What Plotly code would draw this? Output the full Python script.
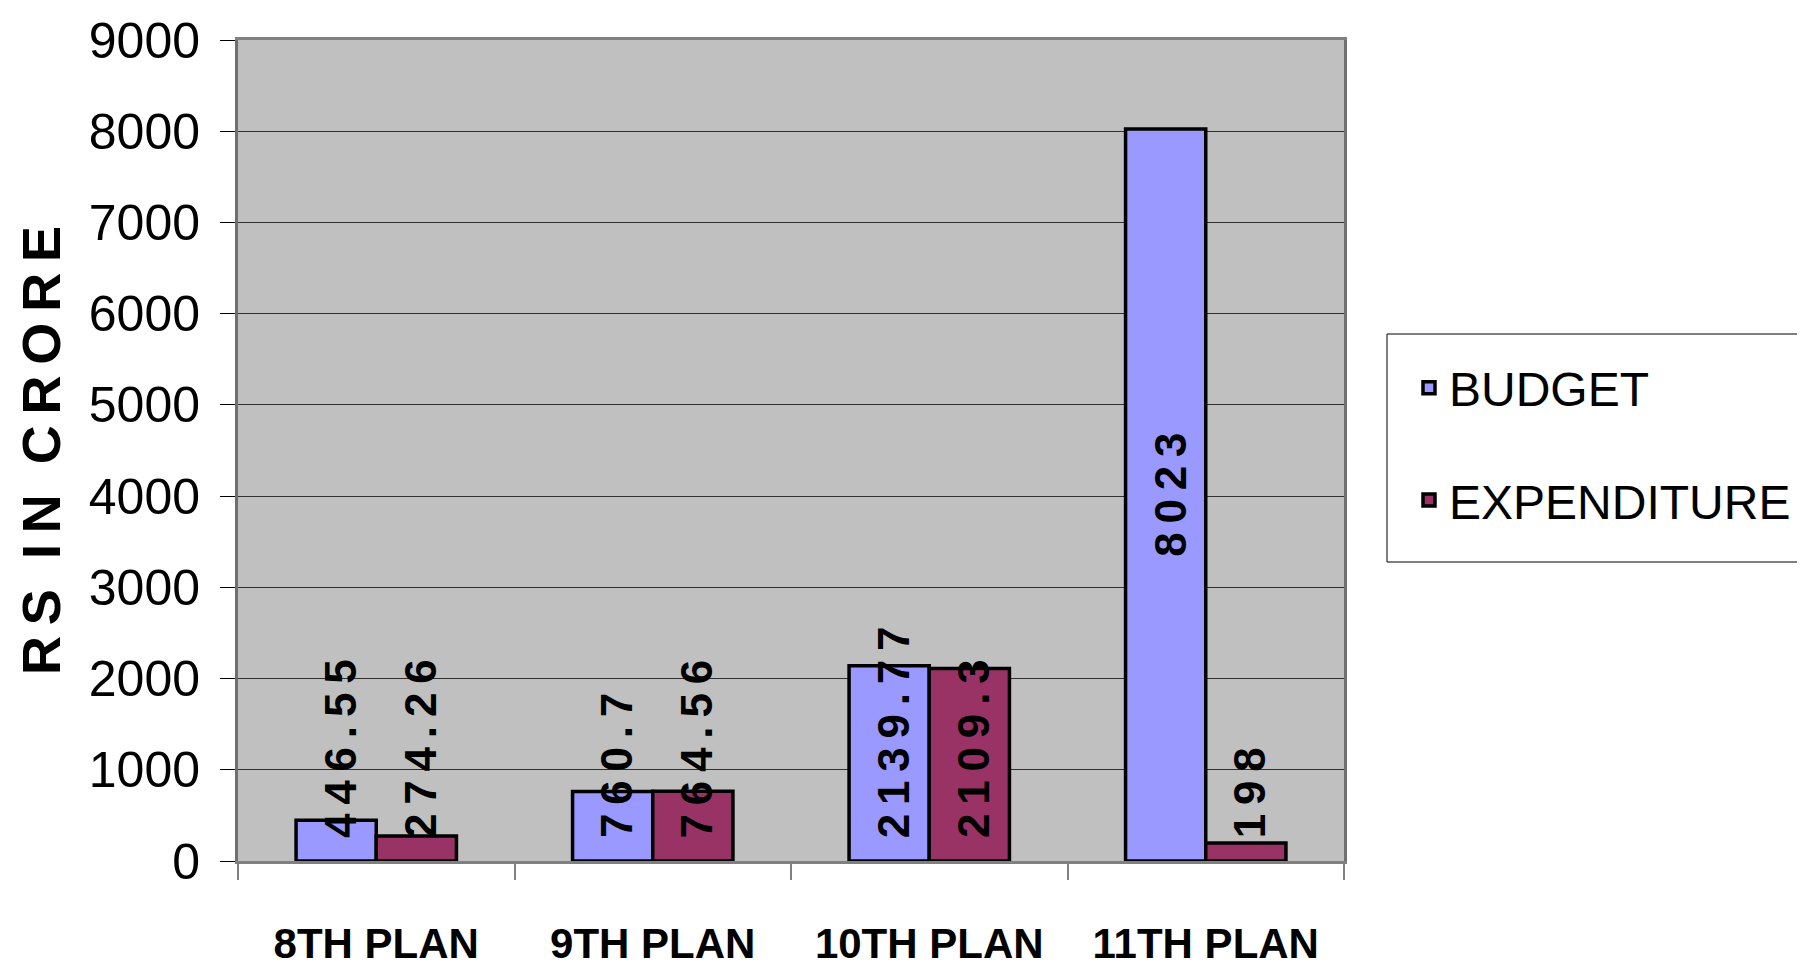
import plotly.graph_objects as go

categories = ["8TH PLAN", "9TH PLAN", "10TH PLAN", "11TH PLAN"]
budget = [446.55, 760.7, 2139.77, 8023]
expenditure = [274.26, 764.56, 2109.3, 198]
series_names = ["BUDGET", "EXPENDITURE"]
series_colors = ["#9999FF", "#993366"]
y_title = "R\u2009S  I\u2009N  C\u2009R\u2009O\u2009R\u2009E"

SANS = "Liberation Sans, Arial, sans-serif"
THIN = "\u2009"

W, H = 1805, 969
ML, MR, MT, MB = 230, 469, 32, 116
plot_h = H - MT - MB
plot_w = W - ML - MR
YMAX = 9000
ppu = plot_h / YMAX

def px_x(px):
    return (px - ML) / plot_w

def px_y(px):
    return (H - MB - px) / plot_h

fig = go.Figure()
for name, vals, col in zip(series_names, [budget, expenditure], series_colors):
    fig.add_trace(go.Bar(
        x=categories, y=vals, name=name, legendgroup=name,
        marker=dict(color=col, line=dict(color="black", width=3.5)),
    ))

# data labels (rotated, centred in bar but kept above the axis)
LBL_SIZE = 44
def est_len(s):
    w = 0
    for ch in s:
        if ch.isdigit():
            w += 0.556
        elif ch == THIN:
            w += 0.2
        else:
            w += 0.278
    return w * LBL_SIZE

annotations = []
for vals, shift in [(budget, -40), (expenditure, 40)]:
    for cat, v in zip(categories, vals):
        txt = THIN.join(f"{v:g}")
        half = est_len(txt) / 2
        center_px = max(v * ppu / 2, half + 23)
        annotations.append(dict(
            x=cat, y=center_px / ppu, xref="x", yref="y", text=txt,
            textangle=-90, showarrow=False, xshift=shift + 4,
            xanchor="center", yanchor="middle",
            font=dict(family=SANS, size=LBL_SIZE, color="black", weight="bold"),
        ))

fig.update_layout(
    width=W, height=H,
    margin=dict(l=ML, r=MR, t=MT, b=MB, autoexpand=False),
    paper_bgcolor="white", plot_bgcolor="#C0C0C0",
    barmode="group", bargap=0.42, bargroupgap=0,
    showlegend=True,
    legend=dict(
        x=px_x(1401), y=px_y(342),
        xanchor="left", yanchor="top",
        bgcolor="rgba(0,0,0,0)", borderwidth=0,
        font=dict(family=SANS, size=48, color="black"),
        tracegroupgap=47,
    ),
    shapes=[dict(
        type="rect", xref="paper", yref="paper",
        x0=px_x(1379), x1=px_x(1830), y0=px_y(554), y1=px_y(326),
        line=dict(color="black", width=1), fillcolor="white", layer="below",
    )],
    annotations=annotations,
)

fig.update_xaxes(
    type="category", showgrid=False, tickson="boundaries",
    ticks="outside", ticklen=16, tickcolor="#808080", tickwidth=2,
    showline=True, linecolor="#808080", linewidth=3, mirror=True,
    tickfont=dict(family=SANS, size=42, color="black", weight="bold"),
    tickangle=0, automargin=False,
    ticklabelstandoff=44,
)
fig.update_yaxes(
    range=[0, YMAX], dtick=1000, tickformat="d",
    showgrid=True, gridcolor="#303030", gridwidth=1, zeroline=False,
    ticks="outside", ticklen=15, tickcolor="black", tickwidth=1,
    showline=True, linecolor="#707070", linewidth=3, mirror=True,
    tickfont=dict(family=SANS, size=50, color="black"),
    ticklabelstandoff=10, automargin=False,
    title=dict(text=y_title, standoff=11,
               font=dict(family=SANS, size=54, color="black", weight="bold")),
)

fig.write_html("out.html")
